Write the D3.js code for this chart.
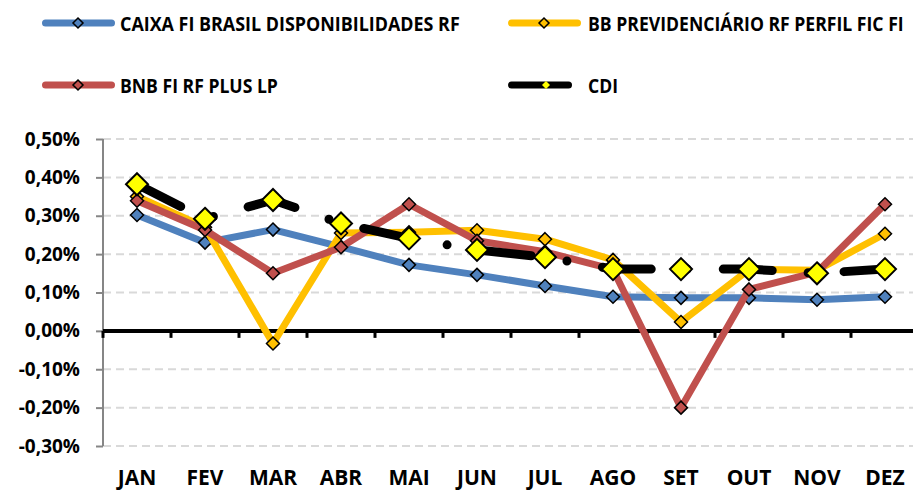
<!DOCTYPE html>
<html>
<head>
<meta charset="utf-8">
<script src="https://cdn.jsdelivr.net/npm/d3@7/dist/d3.min.js"></script>
<style>
  html, body { margin: 0; padding: 0; background: #fff; }
  svg { display: block; }
  text { font-family: "Open Sans", "DejaVu Sans", sans-serif; font-weight: bold; fill: #000; }
</style>
</head>
<body>
<svg id="chart" width="913" height="491"></svg>
<script>
// ---- data ----
const months = ["JAN","FEV","MAR","ABR","MAI","JUN","JUL","AGO","SET","OUT","NOV","DEZ"];
const yTicks = [-0.3,-0.2,-0.1,0,0.1,0.2,0.3,0.4,0.5];
const caixa = [0.302,0.230,0.264,0.219,0.172,0.146,0.117,0.089,0.086,0.086,0.081,0.089];
const bb    = [0.350,0.270,-0.033,0.255,0.257,0.262,0.239,0.185,0.023,0.160,0.158,0.253];
const bnb   = [0.339,0.263,0.150,0.218,0.330,0.235,0.206,0.160,-0.200,0.108,0.153,0.330];
const cdi   = [0.382,0.292,0.341,0.280,0.241,0.211,0.192,0.161,0.161,0.161,0.150,0.161];
const seriesNames = ["CAIXA FI BRASIL DISPONIBILIDADES RF","BB PREVIDENCIÁRIO RF PERFIL FIC FI","BNB FI RF PLUS LP","CDI"];

const svg = d3.select("#chart");
const x = d3.scaleBand().domain(months).range([103, 919]).padding(0);
const y = d3.scaleLinear().domain([-0.3, 0.5]).range([446, 139]);
const cx = m => x(m) + x.bandwidth() / 2;

// gridlines
svg.append("g").selectAll("line").data(yTicks.filter(v => v !== 0)).join("line")
  .attr("x1", 103).attr("x2", 913).attr("y1", d => y(d)).attr("y2", d => y(d))
  .attr("stroke", "#d9d9d9").attr("stroke-width", 2).attr("stroke-dasharray", "8,5");

// y axis
const yAxis = d3.axisLeft(y).tickValues(yTicks).tickSize(7).tickPadding(16)
  .tickFormat(d => d3.format(".2f")(d).replace(".", ",").replace("−", "-") + "%");
const gy = svg.append("g").attr("transform", "translate(103,0)").call(yAxis);
gy.select(".domain").attr("stroke", "#868686").attr("stroke-width", 2).attr("d", `M0,${y(0.5)}V${y(-0.3)}`);
gy.selectAll(".tick line").attr("stroke", "#868686").attr("stroke-width", 2);
gy.selectAll(".tick text").style("font-size", "19px").attr("fill", "#000");

// zero line with ticks
const xAxis = d3.axisBottom(x).tickSize(7).tickFormat("");
const gx = svg.append("g").attr("transform", `translate(0,${y(0)})`).call(xAxis);
gx.selectAll(".tick line").attr("stroke", "#000").attr("stroke-width", 3)
  .attr("transform", function() { return "translate(" + (-x.bandwidth()/2) + ",0)"; });
gx.select(".domain").attr("d", "M103,0H913").attr("stroke", "#000").attr("stroke-width", 4);

// x labels
svg.append("g").selectAll("text").data(months).join("text")
  .attr("x", d => cx(d)).attr("y", 485).attr("text-anchor", "middle")
  .style("font-size", "21px").text(d => d);

const line = d3.line().x((d, i) => cx(months[i])).y(d => y(d));
const diamond = r => `M0,${-r}L${r},0L0,${r}L${-r},0Z`;

function drawSeries(data, color, width, mr, mfill, mstroke, dash) {
  const g = svg.append("g");
  const p = g.append("path").attr("d", line(data)).attr("fill", "none")
    .attr("stroke", color).attr("stroke-width", width)
    .attr("stroke-linejoin", "round").attr("stroke-linecap", "round");
  if (dash) p.attr("stroke-dasharray", dash);
  g.selectAll("path.m").data(data).join("path").attr("class", "m")
    .attr("d", diamond(mr))
    .attr("transform", (d, i) => `translate(${cx(months[i])},${y(d)})`)
    .attr("fill", mfill).attr("stroke", mstroke).attr("stroke-width", mr > 8 ? 2 : 1.5);
}

drawSeries(caixa, "#4F81BD", 7, 6.5, "#4F81BD", "#000");
drawSeries(bb, "#FFC000", 7, 6.5, "#FFC000", "#000");
drawSeries(bnb, "#C0504D", 7, 6.5, "#C0504D", "#000");
drawSeries(cdi, "#000", 9, 11, "#FFFF00", "#000", "49,36,0,36");

// legend
const legend = [
  {name: seriesNames[0], color: "#4F81BD", mfill: "#4F81BD", mstroke: "#000", lx: 42, ly: 23, tw: 340},
  {name: seriesNames[1], color: "#FFC000", mfill: "#FFC000", mstroke: "#000", lx: 508, ly: 23, tw: 316},
  {name: seriesNames[2], color: "#C0504D", mfill: "#C0504D", mstroke: "#000", lx: 42, ly: 85, tw: 158},
  {name: seriesNames[3], color: "#000", mfill: "#FFFF00", mstroke: "none", lx: 508, ly: 85, tw: 30}
];
const lg = svg.append("g").selectAll("g").data(legend).join("g")
  .attr("transform", d => `translate(${d.lx},${d.ly})`);
lg.append("line").attr("x1", 3.5).attr("x2", (d, i) => i === 3 ? 60.5 : 69.5).attr("y1", 0).attr("y2", 0)
  .attr("stroke", d => d.color).attr("stroke-width", 7).attr("stroke-linecap", "round");
lg.append("path").attr("d", (d, i) => diamond(i === 3 ? 4 : 5))
  .attr("transform", (d, i) => `translate(${i === 3 ? 38 : 36},0)`)
  .attr("fill", d => d.mfill).attr("stroke", d => d.mstroke).attr("stroke-width", 1.5);
lg.append("text")
  .style("font-size", "20px")
  .text(d => d.name)
  .each(function(d, i) {
    const w = this.getComputedTextLength();
    const s = w > 0 ? d.tw / w : 1;
    const tx = i % 2 === 0 ? 78 : 80;
    d3.select(this).attr("transform", `translate(${tx},7.5) scale(${s},1)`);
  });
</script>
</body>
</html>
